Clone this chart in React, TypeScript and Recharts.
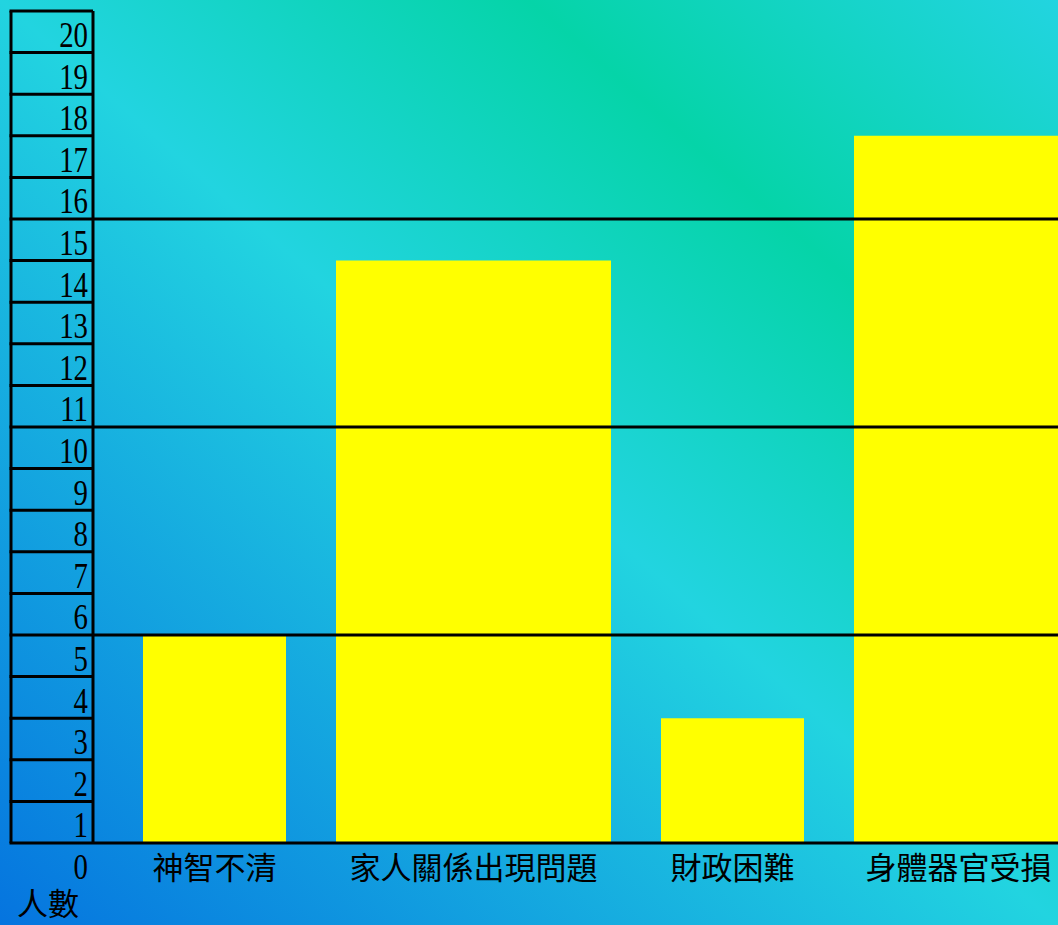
import { BarChart, Bar, XAxis, YAxis, ReferenceLine, LabelList } from 'recharts';

const categories = ['神智不清', '家人關係出現問題', '財政困難', '身體器官受損'];
const counts = [5, 14, 3, 17];
const yTicks = [0, 1, 2, 3, 4, 5, 6, 7, 8, 9, 10, 11, 12, 13, 14, 15, 16, 17, 18, 19, 20];
const gridValues = [5, 10, 15];
const yLabel = '人數';

const CHART_W = 1113;
const CHART_H = 925;
const TOP = 11;
const LEFT = 11;
const XAXIS_H = 82;
const YAXIS_W = 82;
const cellH = (CHART_H - TOP - XAXIS_H) / 20;

// bar width follows the length of its label, like the original table layout
const barWidth = (label: string) => label.length * 33 + 11;

const row: Record<string, string | number> = { group: 'all' };
categories.forEach((c, i) => {
  row[c] = counts[i];
});
const data = [row];

function YTick(props: any) {
  const { x, y, payload } = props;
  const left = x - YAXIS_W;
  return (
    <g>
      <line x1={left - 1.5} x2={x} y1={y} y2={y} stroke="#000" strokeWidth={3} />
      {payload.value > 0 && (
        <line x1={left} x2={left} y1={y} y2={y + cellH} stroke="#000" strokeWidth={3} />
      )}
      <text
        transform={`translate(${x - 5},${y + 36}) scale(0.8,1)`}
        textAnchor="end"
        fontFamily="'Liberation Serif', serif"
        fontSize={36}
        fill="#000"
      >
        {payload.value}
      </text>
    </g>
  );
}

const catLabel = (label: string) => (p: any) => {
  const vb = p.viewBox ?? p;
  const { x, y, width, height } = vb;
  return (
    <text
      x={x + width / 2}
      y={y + height + 36}
      textAnchor="middle"
      fontFamily="'Noto Sans CJK TC', sans-serif"
      fontSize={31}
      fill="#000"
    >
      {label}
    </text>
  );
};

const axisTitle = (p: any) => {
  const vb = p.viewBox;
  return (
    <text
      x={vb.x + 6}
      y={vb.y + vb.height + 72}
      fontFamily="'Noto Sans CJK TC', sans-serif"
      fontSize={31}
      fill="#000"
    >
      {yLabel}
    </text>
  );
};

export default function App() {
  return (
    <div
      style={{
        width: 1058,
        height: 925,
        overflow: 'hidden',
        background: 'linear-gradient(to top right, #0574df 0%, #22d4e0 50%, #05d4a8 75%, #22d4e0 100%)',
      }}
    >
      <style>{'body{margin:0}'}</style>
      <BarChart
        width={CHART_W}
        height={CHART_H}
        data={data}
        margin={{ top: TOP, left: LEFT, right: 0, bottom: 0 }}
        barGap={50}
      >
        <XAxis
          dataKey="group"
          tick={false}
          tickLine={false}
          height={XAXIS_H}
          axisLine={{ stroke: '#000', strokeWidth: 3 }}
        />
        <YAxis
          domain={[0, 20]}
          ticks={yTicks}
          interval={0}
          width={YAXIS_W}
          tickSize={0}
          tickMargin={0}
          tickLine={false}
          tick={<YTick />}
          axisLine={{ stroke: '#000', strokeWidth: 3 }}
          label={{ value: yLabel, content: axisTitle }}
        />
        {categories.map((c) => (
          <Bar key={c} dataKey={c} fill="#ffff00" barSize={barWidth(c)} isAnimationActive={false}>
            <LabelList dataKey={c} content={catLabel(c)} />
          </Bar>
        ))}
        {gridValues.map((v) => (
          <ReferenceLine key={v} y={v} stroke="#000" strokeWidth={3} />
        ))}
      </BarChart>
    </div>
  );
}
